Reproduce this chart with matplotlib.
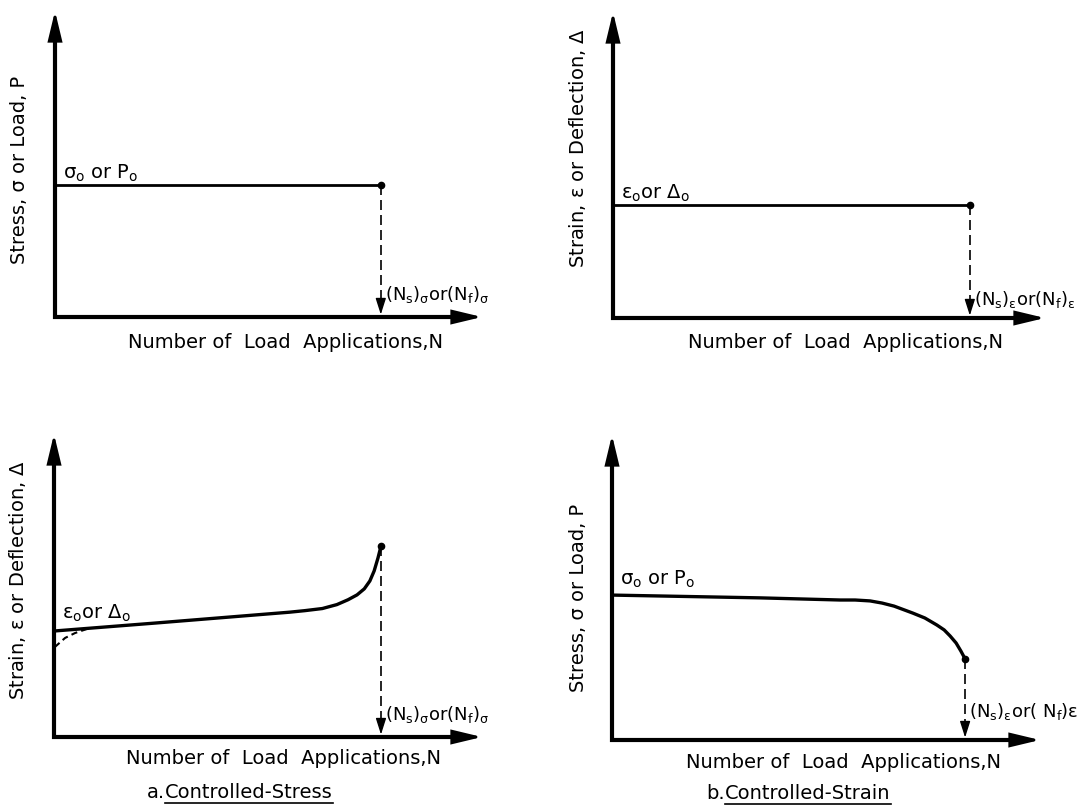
"""
Fatigue test modes: controlled-stress vs controlled-strain loading,
showing the applied quantity and the response against the number of
load applications N.
"""

import matplotlib
matplotlib.use("Agg")
import matplotlib.pyplot as plt

plt.rcParams["font.family"] = "DejaVu Sans"
plt.rcParams["mathtext.fontset"] = "dejavusans"
plt.rcParams["mathtext.default"] = "regular"

W_PX, H_PX = 1089, 805

# Both axes of every panel run 0..100 (share of the drawn axis length).
# (a) controlled stress: constant load, strain grows until failure
stress_a_N = [0.0, 76.3]
stress_a = [43.1, 43.1]
strain_a_N = [0.2, 23.6, 55.1, 58.6, 62.7, 66.1, 68.7, 70.8, 72.5, 73.8,
              74.8, 75.7, 76.4]
strain_a = [35.0, 37.6, 41.2, 41.7, 42.4, 43.7, 45.3, 46.9, 48.9, 51.5,
            54.8, 59.1, 63.0]
strain_a_init_N = [0.2, 2.6, 4.9, 8.4]
strain_a_init = [29.7, 32.7, 34.3, 36.0]

# (b) controlled strain: constant strain, stress drops off before failure
strain_b_N = [0.0, 82.6]
strain_b = [36.9, 36.9]
stress_b_N = [0.5, 34.6, 53.3, 56.8, 60.3, 63.1, 65.9, 70.3, 73.1, 75.9,
              77.6, 79.0, 80.4, 81.5, 82.5]
stress_b = [47.5, 46.6, 45.9, 45.9, 45.6, 44.9, 43.9, 41.6, 40.0, 37.7,
            36.1, 34.1, 31.8, 29.2, 26.6]

X_LABEL = "Number of  Load  Applications,N"
Y_STRESS = "Stress, σ or Load, P"
Y_STRAIN = r"Strain, $\varepsilon$ or Deflection, $\mathit{\Delta}$"
STRESS_0 = r"$\sigma_o$ or P$_o$"
STRAIN_0 = r"$\varepsilon_o$or $\mathit{\Delta}_o$"
N_SIGMA = r"(N$_s$)$_\sigma$or(N$_f$)$_\sigma$"
N_EPS = r"(N$_s$)$_\varepsilon$or(N$_f$)$_\varepsilon$"
N_EPS_B = r"(N$_s$)$_\varepsilon$or( N$_f$)$\varepsilon$"

FS = 14
FS_N = 13


def fig_xy(x, y):
    """pixel position (from top-left) -> figure fraction"""
    return x / W_PX, 1 - y / H_PX


def make_panel(fig, ox, oy, tx, ty):
    ax = fig.add_axes([ox / W_PX, 1 - oy / H_PX,
                       (tx - ox) / W_PX, (oy - ty) / H_PX])
    ax.set_xlim(0, 100)
    ax.set_ylim(0, 100)
    ax.axis("off")
    # axis lines with filled arrow heads
    ax.plot([0, 0, 96], [96, 0, 0], color="black", lw=3.0,
            solid_joinstyle="miter", solid_capstyle="butt", clip_on=False)
    head = dict(arrowstyle="-|>,head_length=1.25,head_width=0.3",
                color="black", lw=2.0, shrinkA=0, shrinkB=0,
                mutation_scale=14, joinstyle="miter")
    ax.annotate("", xy=(100, 0), xytext=(90, 0), arrowprops=head,
                annotation_clip=False)
    ax.annotate("", xy=(0, 100), xytext=(0, 90), arrowprops=head,
                annotation_clip=False)
    return ax


def failure_marker(ax, n, y, label, dx=3, dy=9):
    ax.plot([n], [y], "o", color="black", ms=4.5, clip_on=False)
    ax.plot([n, n], [y, 3], color="black", lw=1.2,
            linestyle=(0, (6, 3)), clip_on=False)
    ax.annotate("", xy=(n, 0.8), xytext=(n, 6),
                arrowprops=dict(arrowstyle="-|>,head_length=1.1,head_width=0.35",
                                color="black", lw=1.0, shrinkA=0, shrinkB=0,
                                mutation_scale=9),
                annotation_clip=False)
    ax.annotate(label, xy=(n, 0), xytext=(dx, dy), textcoords="offset points",
                fontsize=FS_N, ha="left", va="bottom", annotation_clip=False)


def caption(fig, x, y, prefix, body):
    fx, fy = fig_xy(x, y)
    t1 = fig.text(fx, fy, prefix, fontsize=FS, ha="right", va="center")
    t2 = fig.text(fx, fy, body, fontsize=FS, ha="left", va="center")
    fig.canvas.draw()
    bb = t2.get_window_extent()
    y_line = (bb.y0 - 1) / H_PX
    fig.add_artist(plt.Line2D([bb.x0 / W_PX, bb.x1 / W_PX], [y_line, y_line],
                              color="black", lw=1.2))
    return t1, t2


fig = plt.figure(figsize=(W_PX / 100, H_PX / 100), dpi=100)

# ---- (a) top: stress held constant ----
ax1 = make_panel(fig, 55, 317, 482, 11)
ax1.plot(stress_a_N, stress_a, color="black", lw=2.0, clip_on=False)
ax1.annotate(STRESS_0, xy=(0, stress_a[0]), xytext=(6, 1),
             textcoords="offset points", fontsize=FS, va="bottom")
failure_marker(ax1, stress_a_N[-1], stress_a[-1], N_SIGMA, dy=9)
fig.text(*fig_xy(286, 342), X_LABEL, fontsize=FS, ha="center", va="center")
fig.text(*fig_xy(20, 170), Y_STRESS, fontsize=FS, ha="center", va="center",
         rotation=90)

# ---- (b) top: strain held constant ----
ax2 = make_panel(fig, 613, 318, 1045, 12)
ax2.plot(strain_b_N, strain_b, color="black", lw=2.0, clip_on=False)
ax2.annotate(STRAIN_0, xy=(0, strain_b[0]), xytext=(6, 1),
             textcoords="offset points", fontsize=FS, va="bottom")
failure_marker(ax2, strain_b_N[-1], strain_b[-1], N_EPS, dy=6)
fig.text(*fig_xy(845, 342), X_LABEL, fontsize=FS, ha="center", va="center")
fig.text(*fig_xy(578, 148), Y_STRAIN, fontsize=FS, ha="center", va="center",
         rotation=90)

# ---- (a) bottom: strain response ----
ax3 = make_panel(fig, 54, 737, 482, 434)
ax3.plot(strain_a_N, strain_a, color="black", lw=2.4, clip_on=False,
         solid_joinstyle="round")
ax3.plot(strain_a_init_N, strain_a_init, color="black", lw=1.5,
         linestyle=(0, (3, 2)), clip_on=False)
ax3.annotate(STRAIN_0, xy=(0, strain_a[0]), xytext=(6, 5),
             textcoords="offset points", fontsize=FS, va="bottom")
failure_marker(ax3, strain_a_N[-1], strain_a[-1], N_SIGMA, dy=9)
fig.text(*fig_xy(284, 758), X_LABEL, fontsize=FS, ha="center", va="center")
fig.text(*fig_xy(18, 580), Y_STRAIN, fontsize=FS, ha="center", va="center",
         rotation=90)

# ---- (b) bottom: stress response ----
ax4 = make_panel(fig, 612, 740, 1040, 435)
ax4.plot(stress_b_N, stress_b, color="black", lw=2.4, clip_on=False,
         solid_joinstyle="round")
ax4.annotate(STRESS_0, xy=(0, stress_b[0]), xytext=(6, 4),
             textcoords="offset points", fontsize=FS, va="bottom")
failure_marker(ax4, stress_b_N[-1], stress_b[-1], N_EPS_B, dy=13)
fig.text(*fig_xy(843, 762), X_LABEL, fontsize=FS, ha="center", va="center")
fig.text(*fig_xy(578, 598), Y_STRESS, fontsize=FS, ha="center", va="center",
         rotation=90)

caption(fig, 165, 792, "a.", "Controlled-Stress")
caption(fig, 725, 793, "b.", "Controlled-Strain")

fig.savefig("out.png", dpi=100)
